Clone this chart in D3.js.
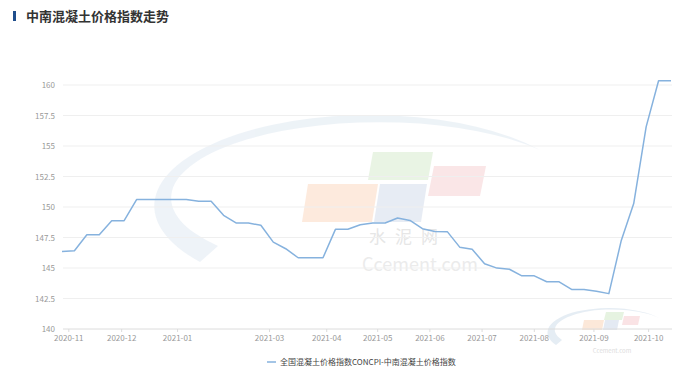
<!DOCTYPE html>
<html>
<head>
<meta charset="utf-8">
<script src="https://cdn.jsdelivr.net/npm/d3@7"></script>
<style>
  body { margin: 0; background: #fff; }
  svg text { font-family: "Noto Sans CJK SC", "Noto Sans", sans-serif; }
</style>
</head>
<body>
<div id="chart"></div>
<script>
// weekly index values
const values = [
  146.36, 146.42, 147.73, 147.73, 148.88, 148.88, 150.61, 150.61, 150.61, 150.61,
  150.61, 150.47, 150.47, 149.32, 148.69, 148.69, 148.5, 147.12, 146.58, 145.84,
  145.84, 145.84, 148.17, 148.17, 148.55, 148.69, 148.69, 149.1, 148.9, 148.22,
  148.0, 147.98, 146.71, 146.54, 145.35, 144.99, 144.9, 144.36, 144.36, 143.87,
  143.87, 143.24, 143.24, 143.1, 142.9, 147.26, 150.28, 156.57, 160.35, 160.35
];
// month labels and the (fractional) week index they sit at
const monthLabels = ['2020-11', '2020-12', '2021-01', '2021-03', '2021-04', '2021-05',
  '2021-06', '2021-07', '2021-08', '2021-09', '2021-10'];
const monthPos = [0.55, 4.8, 9.3, 16.7, 21.3, 25.4, 29.6, 33.8, 38, 42.8, 47.2];
const yTicks = [140, 142.5, 145, 147.5, 150, 152.5, 155, 157.5, 160];
const seriesName = '全国混凝土价格指数CONCPI-中南混凝土价格指数';
const title = '中南混凝土价格指数走势';

const width = 695, height = 376;
const svg = d3.select('#chart').append('svg')
  .attr('width', width)
  .attr('height', height);

const x = d3.scaleLinear().domain([0, values.length - 1]).range([62, 671]);
const y = d3.scaleLinear().domain([140, 160]).range([329, 85]);

// title with the little blue bar
svg.append('rect')
  .attr('x', 13).attr('y', 11).attr('width', 3).attr('height', 10)
  .attr('fill', '#1f4e8c');
svg.append('text')
  .attr('x', 26).attr('y', 21)
  .attr('font-size', 13).attr('font-weight', 'bold')
  .attr('fill', '#333')
  .text(title);

// watermark (faint swoosh + colour blocks + text)
const wm = svg.append('g').attr('opacity', 0.45);
wm.append('path')
  .attr('d', 'M200,262 A185,78 0 0 1 540,150 A170,62 0 0 0 218,246 Z')
  .attr('fill', '#d9e5ef');
const blocks = [
  { c: '#cfe8c4', p: [[373, 152], [433, 152], [428, 180], [368, 180]] },
  { c: '#f6c9cc', p: [[434, 166], [486, 166], [480, 196], [428, 196]] },
  { c: '#fbd2b4', p: [[308, 184], [378, 184], [372, 222], [302, 222]] },
  { c: '#cbd6e8', p: [[380, 184], [427, 184], [421, 222], [374, 222]] }
];
blocks.forEach(b => {
  wm.append('polygon').attr('points', b.p.join(' ')).attr('fill', b.c);
});
wm.append('text')
  .attr('x', 408).attr('y', 243).attr('text-anchor', 'middle')
  .attr('font-size', 17).attr('fill', '#c8c8c8').attr('letter-spacing', 9)
  .text('水泥网');
wm.append('text')
  .attr('x', 420).attr('y', 271).attr('text-anchor', 'middle')
  .attr('font-size', 18).attr('fill', '#d4d4d4')
  .attr('font-family', 'Arial, "Liberation Sans", sans-serif')
  .text('Ccement.com');

// small corner logo
const cl = svg.append('g').attr('opacity', 0.5);
cl.append('path')
  .attr('d', 'M556,345 A55,22 0 0 1 662,320 A50,18 0 0 0 562,340 Z')
  .attr('fill', '#cddcea');
[
  { c: '#cfe8c4', p: [[606, 312], [624, 312], [622, 320], [604, 320]] },
  { c: '#f6c9cc', p: [[624, 316], [640, 316], [638, 325], [622, 325]] },
  { c: '#fbd2b4', p: [[584, 320], [604, 320], [602, 330], [582, 330]] },
  { c: '#cbd6e8', p: [[605, 320], [619, 320], [617, 330], [603, 330]] }
].forEach(b => {
  cl.append('polygon').attr('points', b.p.join(' ')).attr('fill', b.c);
});
cl.append('text')
  .attr('x', 612).attr('y', 353).attr('text-anchor', 'middle')
  .attr('font-size', 6).attr('fill', '#bbb')
  .text('Ccement.com');

// grid lines and y labels
svg.append('g')
  .selectAll('line')
  .data(yTicks)
  .join('line')
  .attr('x1', 63).attr('x2', 672)
  .attr('y1', d => y(d)).attr('y2', d => y(d))
  .attr('stroke', d => d === 140 ? '#dcdcdc' : '#efefef')
  .attr('stroke-width', 1);

svg.append('g')
  .selectAll('text')
  .data(yTicks)
  .join('text')
  .attr('x', 55)
  .attr('y', d => y(d) + 3)
  .attr('text-anchor', 'end')
  .attr('font-size', 8)
  .attr('fill', '#999')
  .text(d => d);

// x ticks and labels
svg.append('g')
  .selectAll('line')
  .data(monthPos)
  .join('line')
  .attr('x1', d => x(d)).attr('x2', d => x(d))
  .attr('y1', y(140)).attr('y2', y(140) + 3)
  .attr('stroke', '#dcdcdc');

svg.append('g')
  .selectAll('text')
  .data(monthLabels)
  .join('text')
  .attr('x', (d, i) => x(monthPos[i]))
  .attr('y', 341)
  .attr('text-anchor', 'middle')
  .attr('font-size', 8)
  .attr('fill', '#999')
  .text(d => d);

// the line
const line = d3.line()
  .x((d, i) => x(i))
  .y(d => y(d));

svg.append('path')
  .datum(values)
  .attr('d', line)
  .attr('fill', 'none')
  .attr('stroke', '#86b2de')
  .attr('stroke-width', 1.5)
  .attr('stroke-linejoin', 'round');

// legend
svg.append('line')
  .attr('x1', 267).attr('x2', 276)
  .attr('y1', 362).attr('y2', 362)
  .attr('stroke', '#86b2de').attr('stroke-width', 1.5);
svg.append('text')
  .attr('x', 280).attr('y', 365)
  .attr('font-size', 8)
  .attr('fill', '#444')
  .text(seriesName);
</script>
</body>
</html>
